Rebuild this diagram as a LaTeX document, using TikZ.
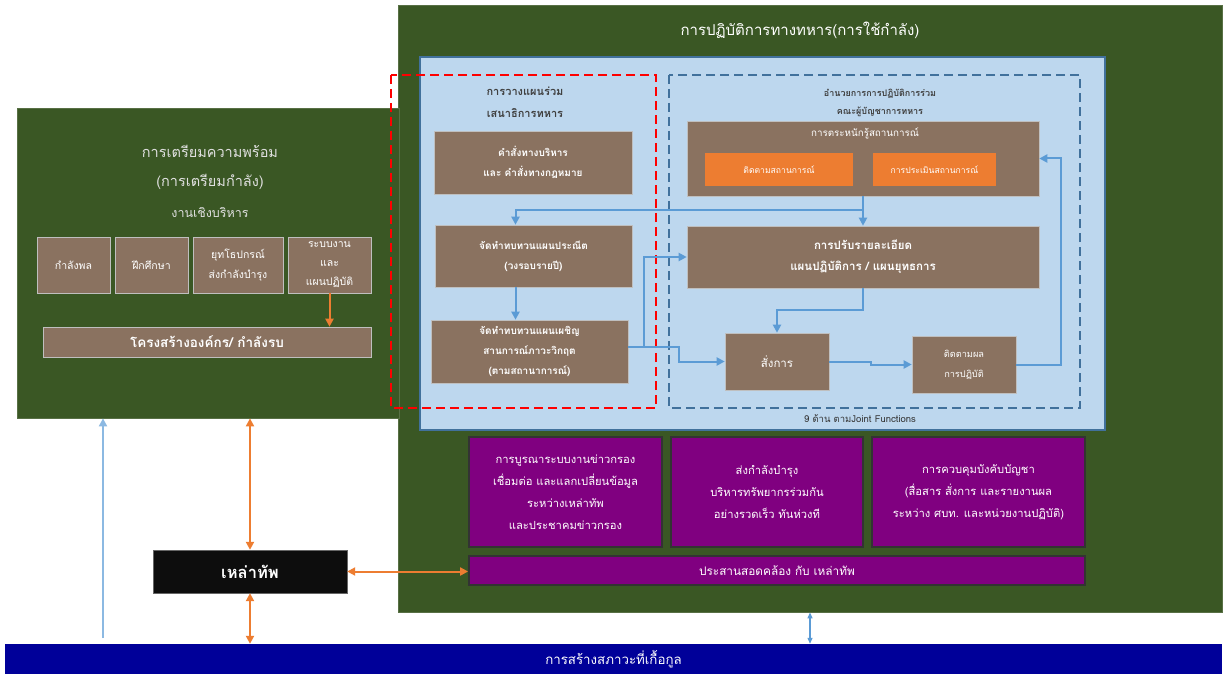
\documentclass[tikz,border=0pt]{standalone}
\usepackage{fontspec}
\usepackage{xcolor}
\usetikzlibrary{arrows.meta}
\newfontfamily\thaifont[Script=Thai]{Loma}
\definecolor{opsgreen}{HTML}{3A5724}
\definecolor{panelblue}{HTML}{BDD7EE}
\definecolor{paneledge}{HTML}{41719C}
\definecolor{boxbrown}{HTML}{8A7260}
\definecolor{boxorange}{HTML}{ED7D31}
\definecolor{boxpurple}{HTML}{800080}
\definecolor{arrblue}{HTML}{5B9BD5}
\definecolor{basenavy}{HTML}{000099}
\definecolor{headgrey}{HTML}{404040}

\begin{document}
\begin{tikzpicture}[x=1pt,y=-1pt,font=\thaifont,
  size/.style 2 args={minimum width=#1pt,minimum height=#2pt,inner sep=1pt},
  greenbox/.style={fill=opsgreen,draw=opsgreen!85!white,line width=0.8pt},
  brownbox/.style={fill=boxbrown,draw=black!25,line width=0.6pt,text=white,align=center,font=\thaifont\fontsize{10.5}{20}\selectfont},
  orangebox/.style={fill=boxorange,draw=none,text=white,font=\thaifont\fontsize{8.6}{10}\selectfont},
  purplebox/.style={fill=boxpurple,draw=black!80,line width=1.8pt,text=white,align=center,font=\thaifont\fontsize{11.2}{22}\selectfont},
  headtext/.style={text=black!12,align=center},
  paneltext/.style={text=headgrey,align=center,font=\thaifont\bfseries\fontsize{11}{22}\selectfont},
  flow/.style={draw=arrblue,line width=2pt,-{Triangle[length=8pt,width=8pt]}},
  orarr/.style={draw=boxorange,line width=2pt,-{Triangle[length=8pt,width=8pt]}},
  orboth/.style={draw=boxorange,line width=2pt,{Triangle[length=8pt,width=8pt]}-{Triangle[length=8pt,width=8pt]}},
  thinboth/.style={draw=arrblue,line width=1.2pt,{Triangle[length=6pt,width=5pt]}-{Triangle[length=6pt,width=5pt]}}]
\path[use as bounding box,fill=white] (0,0) rectangle (1227,674);

% background frames
\node[greenbox,size={824}{607}] (ops) at (810,308.5) {};
\node[greenbox,size={382}{310}] (prep) at (208,263) {};
\node[text=white,font=\thaifont\fontsize{15}{17}\selectfont] (opstitle) at (800,30) {การปฏิบัติการทางทหาร(การใช้กำลัง)};
\node[fill=panelblue,draw=paneledge,line width=2pt,size={685}{373}] (panel) at (762.5,243.5) {};

% left side: preparation
\node[headtext,font=\thaifont\fontsize{14.5}{29}\selectfont] (preptitle) at (210,167) {การเตรียมความพร้อม\\(การเตรียมกำลัง)};
\node[headtext,font=\thaifont\fontsize{12.5}{14}\selectfont] (admin) at (210,213) {งานเชิงบริหาร};
\node[brownbox,size={73}{56}] (s1) at (73.5,265) {กำลังพล};
\node[brownbox,size={73}{56}] (s2) at (151.5,265) {ฝึกศึกษา};
\node[brownbox,size={90}{56},font=\thaifont\fontsize{10.5}{20}\selectfont] (s3) at (238,265) {ยุทโธปกรณ์\\ส่งกำลังบำรุง};
\node[brownbox,size={83}{56},font=\thaifont\fontsize{10.5}{19}\selectfont] (s4) at (329.5,265) {ระบบงาน\\และ\\แผนปฏิบัติ};
\node[brownbox,size={328}{30},font=\thaifont\bfseries\fontsize{13.5}{15}\selectfont] (org) at (207,342) {โครงสร้างองค์กร/ กำลังรบ};
\draw[orarr] (s4.south) -- (s4.south |- org.north);

% joint planning column
\draw[red,line width=2.5pt,dash pattern=on 9pt off 5pt] (391,75) rectangle (656,408);
\node[paneltext] (plantitle) at (525,102) {การวางแผนร่วม\\เสนาธิการทหาร};
\node[brownbox,size={198}{63},font=\thaifont\bfseries\fontsize{10}{20}\selectfont] (b1) at (533,162.5) {คำสั่งทางบริหาร\\และ คำสั่งทางกฎหมาย};
\node[brownbox,size={197}{62},font=\thaifont\bfseries\fontsize{10}{20}\selectfont] (b2) at (533.5,256) {จัดทำทบทวนแผนประณีต\\(วงรอบรายปี)};
\node[brownbox,size={197}{63},font=\thaifont\bfseries\fontsize{10}{20}\selectfont] (b3) at (529.5,351.5) {จัดทำทบทวนแผนเผชิญ\\สานการณ์ภาวะวิกฤต\\(ตามสถานาการณ์)};

% joint operations direction
\draw[paneledge,line width=2.5pt,dash pattern=on 9pt off 5pt] (669,75) rectangle (1080,408);
\node[paneltext,font=\thaifont\bfseries\fontsize{9}{18}\selectfont] (jointtitle) at (880,103) {อำนวยการการปฏิบัติการร่วม\\คณะผู้บัญชาการทหาร};
\node[brownbox,size={352}{75}] (b4) at (863,158.5) {};
\node[text=white,font=\thaifont\fontsize{9.8}{11}\selectfont] (b4title) at (865,133) {การตระหนักรู้สถานการณ์};
\node[orangebox,size={148}{33}] (o1) at (779,169.5) {ติดตามสถานการณ์};
\node[orangebox,size={123}{33}] (o2) at (934.5,169.5) {การประเมินสถานการณ์};
\node[brownbox,size={352}{62},font=\thaifont\bfseries\fontsize{11.5}{21}\selectfont] (b5) at (863,257) {การปรับรายละเอียด\\แผนปฏิบัติการ / แผนยุทธการ};
\node[brownbox,size={104}{57},font=\thaifont\fontsize{11.5}{14}\selectfont] (b6) at (777,361.5) {สั่งการ};
\node[brownbox,size={104}{57},font=\thaifont\fontsize{9.2}{20}\selectfont] (b7) at (964,364.5) {ติดตามผล\\การปฏิบัติ};
\node[text=black!80,font=\thaifont\fontsize{9.5}{11}\selectfont] (jf) at (860,419) {9 ด้าน ตามJoint Functions};

% flows inside the panel
\coordinate (j1) at (863,210);
\coordinate (j2) at (644,347);
\coordinate (j3) at (1061,0);
\draw[flow] (b4.south) -- (b5.north);
\draw[flow] (j1) -| ([xshift=-18pt]b2.north);
\draw[flow] ([xshift=-18pt]b2.south) -- ([xshift=-18pt]b2.south |- b3.north);
\draw[flow] (b3.east |- j2) -- (j2) |- (b5.west);
\draw[flow] (j2) -- ++(35,0) |- (b6.west);
\draw[flow] (b5.south) -- ++(0,22) -| (b6.north);
\draw[flow] (b6.east) -- ++(42,0) |- (b7.west);
\draw[flow] (b7.east) -| (j3 |- b4.east) -- (b4.east);

% support functions
\node[purplebox,size={193}{110}] (p1) at (565.5,492) {การบูรณาระบบงานข่าวกรอง\\เชื่อมต่อ และแลกเปลี่ยนข้อมูล\\ระหว่างเหล่าทัพ\\และประชาคมข่าวกรอง};
\node[purplebox,size={192}{110}] (p2) at (767,492) {ส่งกำลังบำรุง\\บริหารทรัพยากรร่วมกัน\\อย่างรวดเร็ว ทันห่วงที};
\node[purplebox,size={213}{110}] (p3) at (978.5,492) {การควบคุมบังคับบัญชา\\(สื่อสาร สั่งการ และรายงานผล\\ระหว่าง ศบท. และหน่วยงานปฏิบัติ)};
\node[purplebox,size={616}{29},font=\thaifont\fontsize{11.8}{13}\selectfont] (p4) at (777,570.5) {ประสานสอดคล้อง กับ เหล่าทัพ};

% services and base
\node[fill=black!95,draw=black!60,size={194}{43},text=white,font=\thaifont\bfseries\fontsize{16.5}{18}\selectfont] (army) at (250,571.5) {เหล่าทัพ};
\node[fill=basenavy,size={1217}{30},text=white,font=\thaifont\fontsize{13.3}{15}\selectfont] (base) at (613.5,659) {การสร้างสภาวะที่เกื้อกูล};

\coordinate (c1) at (103,638);
\coordinate (c2) at (810,0);
\draw[flow,draw=arrblue!70] (c1) -- (c1 |- prep.south);
\draw[orboth] (army.north) -- (army.north |- prep.south);
\draw[orboth] (army.south) -- (army.south |- base.north);
\draw[orboth] (army.east) -- (army.east -| p4.west);
\draw[thinboth] (c2 |- ops.south) -- (c2 |- base.north);
\end{tikzpicture}
\end{document}
